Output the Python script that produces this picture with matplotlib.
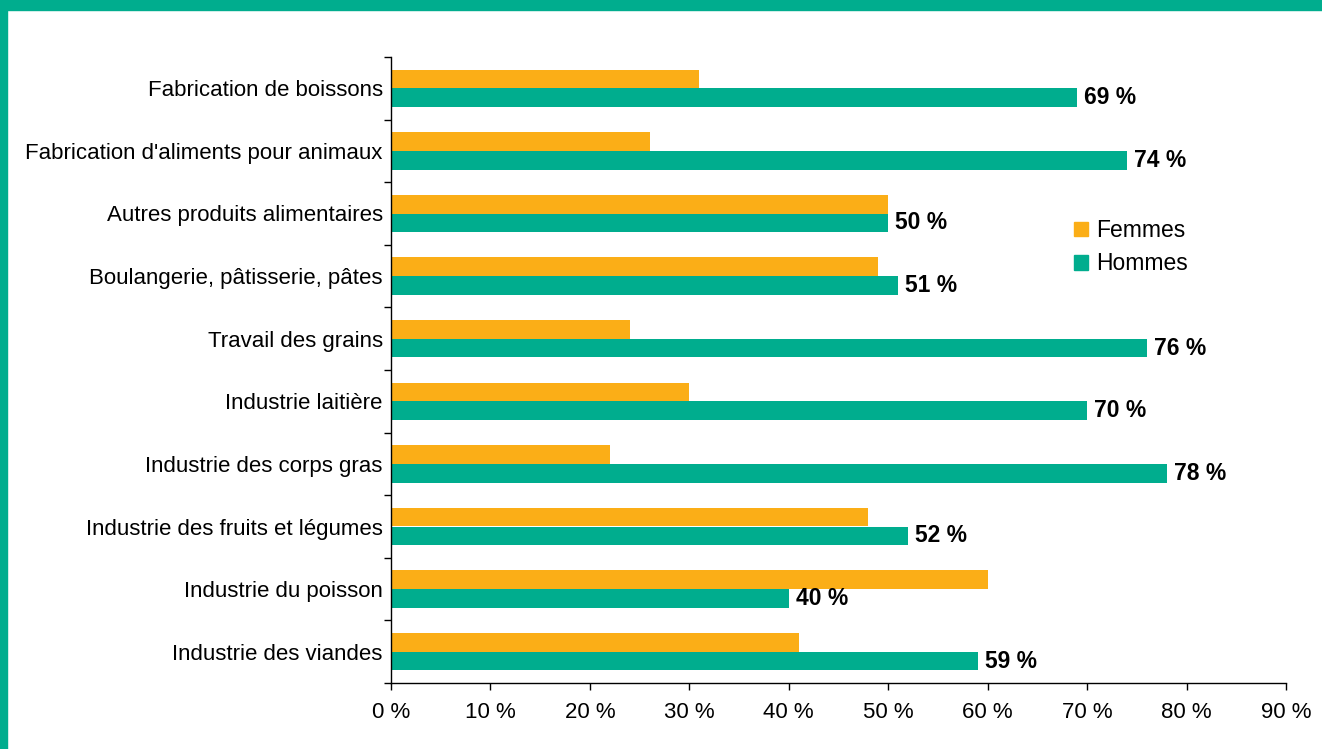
import matplotlib
matplotlib.use("Agg")
import matplotlib.pyplot as plt
from matplotlib.patches import Rectangle, Patch
import numpy as np

plt.rcParams['font.family'] = ['Liberation Sans', 'DejaVu Sans']

categories = [
    "Fabrication de boissons",
    "Fabrication d'aliments pour animaux",
    "Autres produits alimentaires",
    "Boulangerie, pâtisserie, pâtes",
    "Travail des grains",
    "Industrie laitière",
    "Industrie des corps gras",
    "Industrie des fruits et légumes",
    "Industrie du poisson",
    "Industrie des viandes",
]
femmes = [31, 26, 50, 49, 24, 30, 22, 48, 60, 41]
hommes = [69, 74, 50, 51, 76, 70, 78, 52, 40, 59]
xticks = [0, 10, 20, 30, 40, 50, 60, 70, 80, 90]

c_f = '#FBAE17'
c_h = '#00AD8E'

W, H = 1322, 749
fig = plt.figure(figsize=(W / 100, H / 100), dpi=100)

# frame decorations
fig.patches.append(Rectangle((0, 1 - 10 / H), 1, 10 / H, transform=fig.transFigure,
                             color=c_h, zorder=0))
fig.patches.append(Rectangle((0, 0), 7 / W, 1, transform=fig.transFigure,
                             color=c_h, zorder=0))

ax = fig.add_axes([391 / W, 1 - 683 / H, (1286 - 391) / W, (683 - 57) / H])

n = len(categories)
y = np.arange(n)
bh = 0.30
ax.barh(y - bh / 2, femmes, height=bh, color=c_f, label='Femmes')
ax.barh(y + bh / 2, hommes, height=bh, color=c_h, label='Hommes')

for yi, v in zip(y, hommes):
    ax.annotate(f"{v} %", xy=(v, yi + bh / 2), xytext=(5, 0), textcoords='offset points',
                va='center', ha='left', fontsize=16.5, fontweight='bold', color='black')

ax.set_xlim(0, 90)
ax.set_ylim(n - 0.5, -0.5)

ax.set_xticks(xticks)
ax.set_xticklabels([f"{t} %" for t in xticks], fontsize=16)
ax.tick_params(axis='x', length=5, width=1, direction='out', pad=9)

ax.set_yticks(np.arange(-0.5, n, 1.0))
ax.set_yticklabels([])
ax.tick_params(axis='y', which='major', length=5, width=1, direction='out')
ax.set_yticks(y, minor=True)
ax.set_yticklabels(categories, minor=True, fontsize=16)
ax.tick_params(axis='y', which='minor', length=0, pad=6)

for s in ['top', 'right']:
    ax.spines[s].set_visible(False)
for s in ['left', 'bottom']:
    ax.spines[s].set_color('black')
    ax.spines[s].set_linewidth(1)

handles = [Patch(color=c_f, label='Femmes'), Patch(color=c_h, label='Hommes')]
leg = fig.legend(handles=handles, loc='upper left', bbox_to_anchor=(1074 / W, 1 - 219 / H),
                 frameon=False, fontsize=16.5, handlelength=0.6, handleheight=0.6,
                 handletextpad=0.35, labelspacing=0.45, borderaxespad=0, borderpad=0)

fig.savefig('out.png', dpi=100)
